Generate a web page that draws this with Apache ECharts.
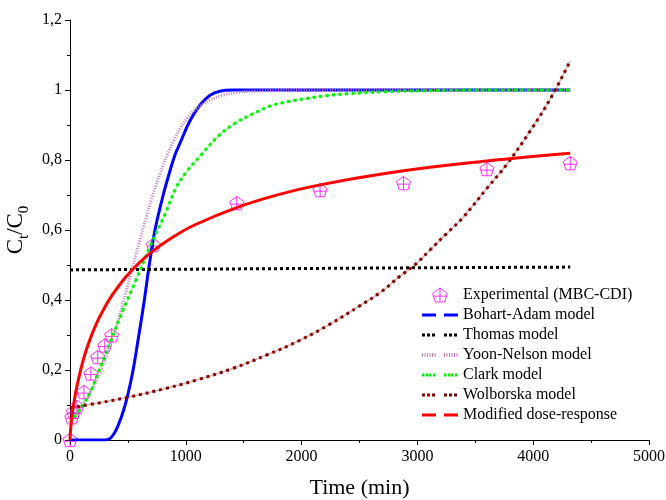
<!DOCTYPE html>
<html>
<head>
<meta charset="utf-8">
<script src="https://cdn.jsdelivr.net/npm/echarts@6/dist/echarts.min.js"></script>
<style>
  html, body { margin: 0; padding: 0; background: #fff; }
  #chart { width: 666px; height: 500px; }
</style>
</head>
<body>
<div id="chart"></div>
<script>
// Breakthrough data for MBC-CDI column: time (min) vs Ct/C0
const expTime = [0, 15, 30, 60, 120, 180, 240, 300, 360, 720, 1440, 2160, 2880, 3600, 4320];
const expCtC0 = [0, 0.065, 0.08, 0.095, 0.137, 0.19, 0.237, 0.27, 0.299, 0.557, 0.677, 0.714, 0.734, 0.774, 0.791];

const bohartTime = [0, 300, 340, 380, 420, 460, 500, 545, 585, 640, 680, 734, 805, 860, 907, 950, 1036, 1123, 1209, 1300, 1400, 1500, 4320];
const bohartCtC0 = [0, 0, 0.003, 0.018, 0.045, 0.082, 0.13, 0.2, 0.28, 0.395, 0.49, 0.6, 0.7, 0.765, 0.815, 0.848, 0.912, 0.957, 0.985, 0.997, 1, 1, 1];

const thomasTime = [0, 1000, 2000, 3000, 4320];
const thomasCtC0 = [0.486, 0.488, 0.49, 0.492, 0.494];

const yoonTime = [0, 60, 120, 180, 240, 300, 360, 420, 480, 540, 600, 660, 720, 780, 840, 900, 960, 1020, 1080, 1200, 1320, 1440, 1600, 1800, 2160, 4320];
const yoonCtC0 = [0.061, 0.081, 0.106, 0.138, 0.178, 0.226, 0.283, 0.347, 0.418, 0.493, 0.567, 0.639, 0.705, 0.763, 0.815, 0.858, 0.895, 0.922, 0.943, 0.97, 0.985, 0.993, 0.997, 0.999, 1, 1];

const clarkTime = [0, 60, 120, 180, 240, 300, 360, 450, 570, 690, 820, 915, 1008, 1123, 1290, 1425, 1569, 1727, 1885, 2044, 2217, 2390, 2700, 3100, 3600, 4320];
const clarkCtC0 = [0.05, 0.075, 0.105, 0.14, 0.19, 0.24, 0.29, 0.365, 0.457, 0.552, 0.645, 0.72, 0.767, 0.811, 0.871, 0.905, 0.93, 0.954, 0.967, 0.976, 0.984, 0.989, 0.995, 0.998, 1, 1];

const wolborskaTime = [0, 250, 500, 835, 1100, 1410, 1700, 1986, 2245, 2500, 2677, 2850, 2994, 3109, 3250, 3397, 3600, 3771, 3972, 4145, 4320];
const wolborskaCtC0 = [0.092, 0.106, 0.122, 0.148, 0.172, 0.205, 0.243, 0.285, 0.331, 0.383, 0.421, 0.468, 0.505, 0.543, 0.589, 0.637, 0.719, 0.787, 0.882, 0.973, 1.083];

const doseTime = [0, 5, 15, 30, 60, 120, 180, 240, 300, 360, 480, 600, 720, 900, 1080, 1440, 1800, 2160, 2880, 3600, 4320];
const doseCtC0 = [0, 0.028, 0.063, 0.098, 0.154, 0.235, 0.294, 0.341, 0.379, 0.412, 0.465, 0.507, 0.541, 0.582, 0.615, 0.664, 0.701, 0.729, 0.769, 0.797, 0.819];

const seriesNames = [
  'Experimental (MBC-CDI)',
  'Bohart-Adam model',
  'Thomas model',
  'Yoon-Nelson model',
  'Clark model',
  'Wolborska model',
  'Modified dose-response'
];

const xTicks = [0, 1000, 2000, 3000, 4000, 5000];
const yTickLabels = ['0', '0,2', '0,4', '0,6', '0,8', '1', '1,2'];

const pairs = (xs, ys) => xs.map((x, i) => [x, ys[i]]);

const serif = '"Liberation Serif", "Times New Roman", serif';

// pentagon with a cross inside
const pentagonMark = 'path://M0,-1L0.951,-0.309L0.588,0.809L-0.588,0.809L-0.951,-0.309ZM0,-1L0,0.809M-0.836,0.05L0.836,0.05';

// legend swatches: two short segments with a gap, bounding box fixed by corner moves
function dashIcon(h) {
  const y0 = 7 - h / 2, y1 = 7 + h / 2;
  return 'path://M0,0M36,14M0,' + y0 + 'H14V' + y1 + 'H0ZM22,' + y0 + 'H36V' + y1 + 'H22Z';
}
function dotIcon(xs, w, h) {
  let p = 'path://M0,0M36,14';
  const y0 = 7 - h / 2, y1 = 7 + h / 2;
  xs.forEach(x => { p += 'M' + x + ',' + y0 + 'H' + (x + w) + 'V' + y1 + 'H' + x + 'Z'; });
  return p;
}

const chart = echarts.init(document.getElementById('chart'), null, { renderer: 'canvas' });

function lineSeries(name, xs, ys, color, width, type, extra) {
  return Object.assign({
    name: name,
    type: 'line',
    data: pairs(xs, ys),
    showSymbol: false,
    symbol: 'none',
    smooth: 0.4,
    color: color,
    lineStyle: { color: color, width: width, type: type, cap: 'butt' },
    animation: false,
    silent: true
  }, extra || {});
}

const option = {
  animation: false,
  backgroundColor: '#ffffff',
  grid: { left: 70, right: 17, top: 20, bottom: 60, containLabel: false, outerBoundsMode: 'none' },
  xAxis: {
    type: 'value',
    min: 0,
    max: 5000,
    interval: 1000,
    name: 'Time (min)',
    nameLocation: 'middle',
    nameGap: 37,
    nameTextStyle: { fontFamily: serif, fontSize: 22, color: '#000' },
    axisLine: { show: true, onZero: false, lineStyle: { color: '#000', width: 1 } },
    axisTick: { show: true, length: 5, lineStyle: { color: '#000' } },
    minorTick: { show: true, splitNumber: 2, length: 3, lineStyle: { color: '#000' } },
    splitLine: { show: false },
    axisLabel: {
      fontFamily: serif, fontSize: 16, color: '#000', margin: 9,
      formatter: v => String(xTicks[Math.round(v / 1000)])
    }
  },
  yAxis: {
    type: 'value',
    min: 0,
    max: 1.2,
    interval: 0.2,
    name: '{a|C}{s|t}{a|/C}{s|0}',
    nameLocation: 'middle',
    nameGap: 31,
    nameTextStyle: {
      fontFamily: serif, fontSize: 23, color: '#000',
      rich: {
        a: { fontFamily: serif, fontSize: 23, color: '#000', lineHeight: 31, verticalAlign: 'middle' },
        s: { fontFamily: serif, fontSize: 15, color: '#000', lineHeight: 15, verticalAlign: 'bottom' }
      }
    },
    axisLine: { show: true, onZero: false, lineStyle: { color: '#000', width: 1 } },
    axisTick: { show: true, length: 5, lineStyle: { color: '#000' } },
    minorTick: { show: true, splitNumber: 2, length: 3, lineStyle: { color: '#000' } },
    splitLine: { show: false },
    axisLabel: {
      fontFamily: serif, fontSize: 16, color: '#000', margin: 8,
      formatter: v => yTickLabels[Math.round(v / 0.2)]
    }
  },
  legend: {
    orient: 'vertical',
    left: 422,
    top: 287,
    padding: 0,
    itemWidth: 36,
    itemHeight: 14,
    itemGap: 4,
    selectedMode: false,
    textStyle: { fontFamily: serif, fontSize: 16, color: '#000', lineHeight: 16 },
    data: [
      { name: seriesNames[0], itemStyle: { color: 'rgba(0,0,0,0)', borderColor: '#ff00ff', borderWidth: 1 } },
      { name: seriesNames[1], icon: dashIcon(3), itemStyle: { borderWidth: 0 } },
      { name: seriesNames[2], icon: dotIcon([0, 5, 10, 22, 27, 32], 3, 3), itemStyle: { borderWidth: 0 } },
      { name: seriesNames[3], icon: dotIcon([0, 2.5, 5, 7.5, 10, 12.5, 22, 24.5, 27, 29.5, 32, 34.5], 1, 4), itemStyle: { borderWidth: 0 } },
      { name: seriesNames[4], icon: dotIcon([0, 4, 7, 11, 22, 26, 29, 33], 2.5, 3), itemStyle: { borderWidth: 0 } },
      { name: seriesNames[5], icon: dotIcon([0, 5, 10, 22, 27, 32], 3, 3), itemStyle: { borderWidth: 0 } },
      { name: seriesNames[6], icon: dashIcon(3), itemStyle: { borderWidth: 0 } }
    ]
  },
  series: [
    {
      name: seriesNames[0],
      type: 'scatter',
      data: pairs(expTime, expCtC0),
      symbol: pentagonMark,
      symbolSize: 14,
      symbolKeepAspect: true,
      itemStyle: { color: 'rgba(0,0,0,0)', borderColor: '#ff00ff', borderWidth: 1 },
      animation: false,
      silent: true,
      z: 2
    },
    lineSeries(seriesNames[1], bohartTime, bohartCtC0, '#0000ff', 3, 'solid'),
    lineSeries(seriesNames[2], thomasTime, thomasCtC0, '#000000', 3, [3, 3], { smooth: false }),
    lineSeries(seriesNames[3], yoonTime, yoonCtC0, '#c97dc9', 3, [1, 1.6]),
    // faint connecting strokes under the dotted Clark and Wolborska curves
    lineSeries('clark-base', clarkTime, clarkCtC0, 'rgba(0,230,0,0.35)', 1.5, 'solid'),
    lineSeries(seriesNames[4], clarkTime, clarkCtC0, '#00ee00', 3, [3, 3.5]),
    lineSeries('wolborska-base', wolborskaTime, wolborskaCtC0, 'rgba(128,0,0,0.3)', 1.5, 'solid'),
    lineSeries(seriesNames[5], wolborskaTime, wolborskaCtC0, '#800000', 3, [3, 4]),
    lineSeries(seriesNames[6], doseTime, doseCtC0, '#ff0000', 3, 'solid')
  ]
};

chart.setOption(option);
</script>
</body>
</html>
